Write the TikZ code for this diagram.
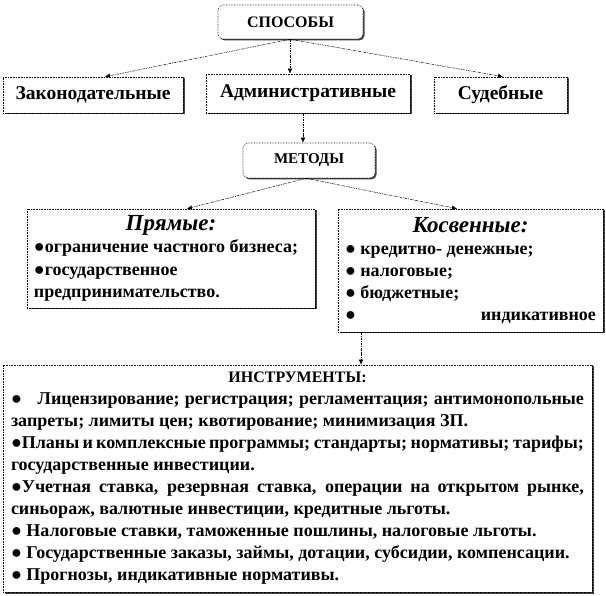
\documentclass[tikz,border=0pt]{standalone}
\usepackage{fontspec}
\setmainfont{Liberation Serif}
\usetikzlibrary{arrows.meta,shadows,calc}
\newcommand\myjust{\leftskip=0pt\rightskip=0pt\parfillskip=0pt plus 1fil\relax}
\newcommand\fullline[1]{\makebox[\linewidth][s]{#1}\par}
\tikzset{
  box/.style={draw=black, line width=0.6pt, densely dotted, fill=white,
    drop shadow={shadow xshift=1.5pt, shadow yshift=-1.5pt, fill=black!75, opacity=1},
    inner sep=0pt, font=\bfseries\fontsize{18}{22}\selectfont},
  rbox/.style={box, rounded corners=5pt},
  conn/.style={line width=0.5pt, dash pattern=on 2.5pt off 1pt on 0.8pt off 1pt,
    -{Latex[length=5pt,width=4.5pt]}},
  big/.style={font=\bfseries\fontsize{19.5}{22}\selectfont},
}
\begin{document}
\begin{tikzpicture}[x=1pt,y=-1pt]
\useasboundingbox (0,0) rectangle (606,596);
\node[rbox, minimum width=145pt, minimum height=34pt, font=\bfseries\fontsize{16}{20}\selectfont] (sp) at (290.5,22) {СПОСОБЫ};
\node[box, big, minimum width=180pt, minimum height=36pt] (zak) at (93,95) {Законодательные};
\node[box, big, minimum width=204pt, minimum height=39pt] (adm) at (308,93.5) {Административные};
\node[box, big, minimum width=133pt, minimum height=36pt] (sud) at (500.5,95) {Судебные};
\node[rbox, minimum width=132pt, minimum height=35pt, font=\bfseries\fontsize{15}{20}\selectfont] (met) at (309,160.5) {МЕТОДЫ};
\node[box, minimum width=288pt, minimum height=99pt] (pr) at (171,258.5) {%
  \begin{minipage}{274pt}\fontsize{18}{22.5}\selectfont
  \centering{\fontsize{23}{22}\selectfont\textit{Прямые:}\par}\raggedright
  ●ограничение частного бизнеса;\par
  ●государственное\par
  предпринимательство.\end{minipage}};
\node[box, minimum width=265pt, minimum height=123pt] (ko) at (470.5,270.5) {%
  \begin{minipage}{251pt}\fontsize{18}{22}\selectfont
  \centering{\fontsize{23}{22}\selectfont\textit{Косвенные:}\par}\raggedright
  ● кредитно- денежные;\par
  ● налоговые;\par
  ● бюджетные;\par
  ●\hfill индикативное\end{minipage}};
\node[box, minimum width=589pt, minimum height=227pt] (in) at (297.5,478.5) {%
  \begin{minipage}{573pt}\fontsize{18}{22}\selectfont
  \centering{\fontsize{16}{22}\selectfont ИНСТРУМЕНТЫ:\par}\myjust
  \parindent=0pt
  \fullline{●\hspace{0.6em} Лицензирование; регистрация; регламентация; антимонопольные}
  запреты; лимиты цен; квотирование; минимизация ЗП.\par
  \fullline{●Планы и комплексные программы; стандарты; нормативы; тарифы;}
  государственные инвестиции.\par
  \fullline{●Учетная ставка, резервная ставка, операции на открытом рынке,}
  синьораж, валютные инвестиции, кредитные льготы.\par
  ● Налоговые ставки, таможенные пошлины, налоговые льготы.\par
  ● Государственные заказы, займы, дотации, субсидии, компенсации.\par
  ● Прогнозы, индикативные нормативы.\end{minipage}};
\draw[conn] (sp.south) -- ([xshift=12pt]zak.north);
\draw[conn] ([xshift=-0.5pt]sp.south) -- ([xshift=-18pt]adm.north);
\draw[conn] (sp.south) -- ([xshift=2.5pt]sud.north);
\draw[conn] ([xshift=-5pt]adm.south) -- ([xshift=-6pt]met.north);
\draw[conn] ([xshift=-3pt]met.south) -- ([xshift=16pt]pr.north);
\draw[conn] ([xshift=-3pt]met.south) -- ([xshift=-13.5pt]ko.north);
\draw[conn] ([xshift=-109.5pt]ko.south) -- ([xshift=63.5pt]in.north);
\end{tikzpicture}
\end{document}
